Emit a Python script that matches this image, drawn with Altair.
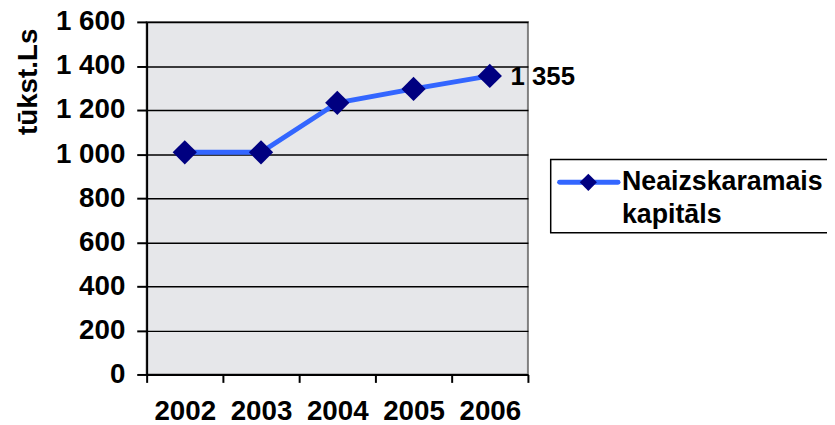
import altair as alt
import pandas as pd

years = ["2002", "2003", "2004", "2005", "2006"]
values = [1008, 1008, 1233, 1296, 1355]
series_name = "Neaizskaramais\nkapitāls"
y_ticks = [0, 200, 400, 600, 800, 1000, 1200, 1400, 1600]
y_title = "tūkst.Ls"

FONT = "Liberation Sans"
LINE_COLOR = "#3366FF"
MARKER_COLOR = "#000080"

df = pd.DataFrame({"year": years, "value": values, "series": [series_name] * len(years)})
last_df = df.iloc[[-1]]
legend_df = pd.DataFrame({"series": [series_name]})

x_enc = alt.X(
    "year:O",
    title=None,
    bandPosition=0.5,
    scale=alt.Scale(type="band", paddingInner=0, paddingOuter=0),
    axis=alt.Axis(
        labelAngle=0,
        tickBand="extent",
        tickSize=8,
        tickColor="black",
        tickWidth=2,
        domainColor="black",
        domainWidth=2,
        labelFont=FONT,
        labelFontSize=28,
        labelFontWeight="bold",
        labelColor="black",
        labelPadding=15,
        grid=False,
    ),
)
y_enc = alt.Y(
    "value:Q",
    scale=alt.Scale(domain=[0, 1600], nice=False),
    axis=alt.Axis(
        title=y_title,
        values=y_ticks,
        labelExpr="replace(format(datum.value, ','), ',', ' ')",
        tickSize=10,
        tickColor="black",
        tickWidth=2,
        domainColor="black",
        domainWidth=2,
        grid=True,
        gridColor="black",
        gridWidth=1.5,
        labelFont=FONT,
        labelFontSize=28,
        labelFontWeight="bold",
        labelColor="black",
        labelPadding=12,
        titleFont=FONT,
        titleFontSize=28,
        titleFontWeight="bold",
        titleColor="black",
        titleAngle=270,
        titleAlign="center",
        titleBaseline="middle",
        titleX=-119,
        titleY=60,
    ),
)

base = alt.Chart(df)

line = base.mark_line(color=LINE_COLOR, strokeWidth=5).encode(x=x_enc, y=y_enc)
points = base.mark_point(
    shape="diamond", filled=True, color=MARKER_COLOR, size=600, opacity=1
).encode(x=x_enc, y=y_enc)

label = (
    alt.Chart(last_df)
    .transform_calculate(lbl="replace(format(datum.value, ','), ',', ' ')")
    .mark_text(
        align="left", baseline="middle", dx=21, dy=1,
        font=FONT, fontSize=26, fontWeight="bold", color="black",
    )
    .encode(x=x_enc, y=y_enc, text="lbl:N")
)

leg_box = (
    alt.Chart(legend_df)
    .mark_rect(fill="white", stroke="black", strokeWidth=1.5)
    .encode(x=alt.value(408), x2=alt.value(720), y=alt.value(139), y2=alt.value(213))
)
leg_line = (
    alt.Chart(legend_df)
    .mark_rule(color=LINE_COLOR, strokeWidth=5, strokeCap="round")
    .encode(x=alt.value(417), x2=alt.value(476), y=alt.value(162))
)
leg_pt = (
    alt.Chart(legend_df)
    .mark_point(shape="diamond", filled=True, color=MARKER_COLOR, size=300, opacity=1)
    .encode(x=alt.value(446), y=alt.value(162))
)
leg_text = (
    alt.Chart(legend_df)
    .mark_text(
        align="left", baseline="alphabetic", lineBreak="\n", lineHeight=33,
        font=FONT, fontSize=27, fontWeight="bold", color="black",
    )
    .encode(x=alt.value(480), y=alt.value(170), text="series:N")
)

chart = (
    alt.layer(line, points, label, leg_box, leg_line, leg_pt, leg_text)
    .properties(
        width=385,
        height=356,
        autosize=alt.AutoSizeParams(type="none"),
        padding={"left": 140, "top": 12, "right": 302, "bottom": 49},
        background="white",
    )
    .configure_view(fill="#e6e7ea", stroke="#808080", strokeWidth=2)
)

chart.save("out.html", embed_options={"renderer": "svg", "actions": False})
